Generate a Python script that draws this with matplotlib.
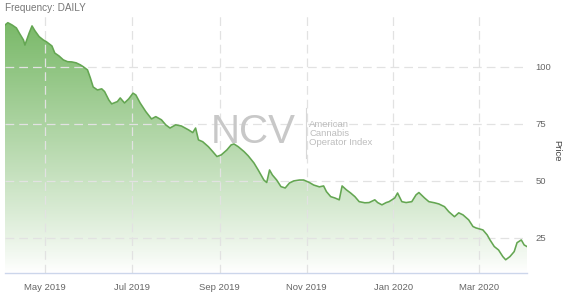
import matplotlib
matplotlib.use("Agg")
import matplotlib.pyplot as plt
import matplotlib.dates as mdates
import numpy as np
import pandas as pd
from matplotlib.patches import Polygon
from matplotlib.lines import Line2D

plt.rcParams['font.family'] = ['Liberation Sans', 'DejaVu Sans']

dates = [
    "2019-04-03", "2019-04-05", "2019-04-08", "2019-04-11", "2019-04-13", "2019-04-16",
    "2019-04-17", "2019-04-20", "2019-04-22", "2019-04-24", "2019-04-27", "2019-04-30",
    "2019-05-02", "2019-05-06", "2019-05-08", "2019-05-11", "2019-05-14", "2019-05-17",
    "2019-05-20", "2019-05-23", "2019-05-26", "2019-05-28", "2019-05-31", "2019-06-02",
    "2019-06-04", "2019-06-07", "2019-06-10", "2019-06-12", "2019-06-15", "2019-06-17",
    "2019-06-21", "2019-06-23", "2019-06-26", "2019-06-29", "2019-07-02", "2019-07-04",
    "2019-07-07", "2019-07-11", "2019-07-15", "2019-07-18", "2019-07-22", "2019-07-25",
    "2019-07-28", "2019-08-01", "2019-08-05", "2019-08-10", "2019-08-13", "2019-08-15",
    "2019-08-17", "2019-08-20", "2019-08-24", "2019-08-27", "2019-08-30", "2019-09-02",
    "2019-09-06", "2019-09-09", "2019-09-11", "2019-09-14", "2019-09-18", "2019-09-21",
    "2019-09-25", "2019-09-28", "2019-10-02", "2019-10-04", "2019-10-06", "2019-10-08",
    "2019-10-11", "2019-10-14", "2019-10-17", "2019-10-20", "2019-10-23", "2019-10-27",
    "2019-10-30", "2019-11-03", "2019-11-06", "2019-11-10", "2019-11-13", "2019-11-15",
    "2019-11-18", "2019-11-21", "2019-11-24", "2019-11-26", "2019-11-29", "2019-12-02",
    "2019-12-05", "2019-12-08", "2019-12-12", "2019-12-15", "2019-12-19", "2019-12-21",
    "2019-12-24", "2019-12-27", "2019-12-29", "2020-01-02", "2020-01-04", "2020-01-07",
    "2020-01-10", "2020-01-14", "2020-01-17", "2020-01-19", "2020-01-23", "2020-01-26",
    "2020-01-30", "2020-02-02", "2020-02-06", "2020-02-09", "2020-02-13", "2020-02-16",
    "2020-02-19", "2020-02-23", "2020-02-26", "2020-02-28", "2020-03-04", "2020-03-07",
    "2020-03-09", "2020-03-12", "2020-03-15", "2020-03-18", "2020-03-20", "2020-03-23",
    "2020-03-26", "2020-03-28", "2020-03-31", "2020-04-02", "2020-04-04",
]
prices = [
    118.4, 119.4, 118.4, 117.1, 114.9, 111.8,
    109.6, 114.9, 118.0, 115.9, 113.3, 111.8,
    111.1, 109.2, 106.1, 104.8, 103.1, 102.3,
    102.2, 101.8, 100.9, 100.1, 98.7, 95.2,
    91.2, 89.9, 90.4, 89.2, 85.5, 83.8,
    84.8, 86.4, 84.2, 86.0, 88.5, 87.7,
    84.2, 80.4, 77.2, 78.2, 76.8, 74.6,
    73.2, 74.6, 74.1, 72.4, 71.2, 73.2,
    68.0, 67.2, 65.0, 62.9, 60.7, 61.4,
    63.6, 65.8, 66.2, 65.0, 62.9, 61.0,
    57.9, 54.8, 50.4, 49.3, 54.8, 52.6,
    50.4, 47.5, 46.9, 49.1, 50.0, 50.4,
    50.4, 49.3, 48.2, 47.4, 47.8, 45.3,
    43.1, 42.5, 41.7, 47.8, 46.1, 44.7,
    43.1, 40.9, 40.4, 40.5, 41.7, 40.5,
    39.5, 40.5, 40.9, 42.5, 44.7, 40.9,
    40.5, 40.9, 43.9, 44.9, 42.5, 40.9,
    40.4, 39.9, 38.7, 36.5, 34.3, 36.0,
    35.1, 32.9, 30.0, 29.4, 28.5, 26.3,
    24.1, 21.2, 19.7, 16.8, 15.4, 16.8,
    19.0, 22.9, 24.1, 21.9, 21.2,
]
x_ticks = ["2019-05-01", "2019-07-01", "2019-09-01", "2019-11-01", "2020-01-01", "2020-03-01"]
x_tick_labels = ["May 2019", "Jul 2019", "Sep 2019", "Nov 2019", "Jan 2020", "Mar 2020"]
y_ticks = [25, 50, 75, 100]

W, H = 566, 298
fig = plt.figure(figsize=(W / 100, H / 100), dpi=100)
ax = fig.add_axes([5 / W, 25 / H, 522 / W, 261 / H])

xd = mdates.date2num(pd.to_datetime(dates))
y = np.array(prices)
ymin, ymax = 9.6, 124.1
ax.set_xlim(xd[0], xd[-1])
ax.set_ylim(ymin, ymax)

# gradient fill
grad = np.linspace(0, 1, 256)
base = np.array([0.45, 0.71, 0.38])
img = np.zeros((256, 1, 4))
img[:, 0, :3] = base
img[:, 0, 3] = grad ** 0.9 * 0.95
top = y.max()
im = ax.imshow(img, extent=[xd[0], xd[-1], ymin, top], origin='lower',
               aspect='auto', zorder=1, interpolation='bilinear')
verts = np.column_stack([np.concatenate([xd, [xd[-1], xd[0]]]),
                         np.concatenate([y, [ymin, ymin]])])
poly = Polygon(verts, closed=True, facecolor='none', edgecolor='none')
ax.add_patch(poly)
im.set_clip_path(poly)

ax.plot(xd, y, color='#64a652', lw=1.15, zorder=3, solid_joinstyle='round')

# grid
xt = mdates.date2num(pd.to_datetime(x_ticks))
ax.set_xticks(xt)
ax.set_xticklabels(x_tick_labels)
ax.set_yticks(y_ticks)
ax.yaxis.tick_right()
ax.grid(True, color='#e2e2e2', linestyle=(0, (7, 4)), lw=0.9, zorder=2)
for gl in ax.get_xgridlines() + ax.get_ygridlines():
    gl.set_zorder(2)
ax.tick_params(axis='both', length=0, labelsize=6.8, labelcolor='#666666')
ax.tick_params(axis='x', pad=7)
ax.tick_params(axis='y', pad=6)
for s in ['top', 'left', 'right']:
    ax.spines[s].set_visible(False)
ax.spines['bottom'].set_color('#ccd6eb')
ax.spines['bottom'].set_linewidth(1.0)
ax.spines['bottom'].set_zorder(4)

fig.text(557 / W, 1 - 151 / H, "Price", rotation=270, ha='center', va='center',
         fontsize=6.8, color='#444444')
fig.text(5 / W, 1 - 8 / H, "Frequency: DAILY", ha='left', va='center',
         fontsize=7.2, color='#777777')

# watermark
fig.text(211 / W, 1 - 132 / H, "NCV", ha='left', va='center', fontsize=29,
         color='#c8c8c8', zorder=5)
fig.add_artist(Line2D([306 / W, 306 / W], [1 - 108 / H, 1 - 158 / H],
                      color='#d8d8d8', lw=0.8, transform=fig.transFigure))
fig.text(309 / W, 1 - 133 / H, "American\nCannabis\nOperator Index", ha='left',
         va='center', fontsize=6.8, color='#bdbdbd', linespacing=1.0, zorder=5)

fig.savefig("out.png", dpi=100)
